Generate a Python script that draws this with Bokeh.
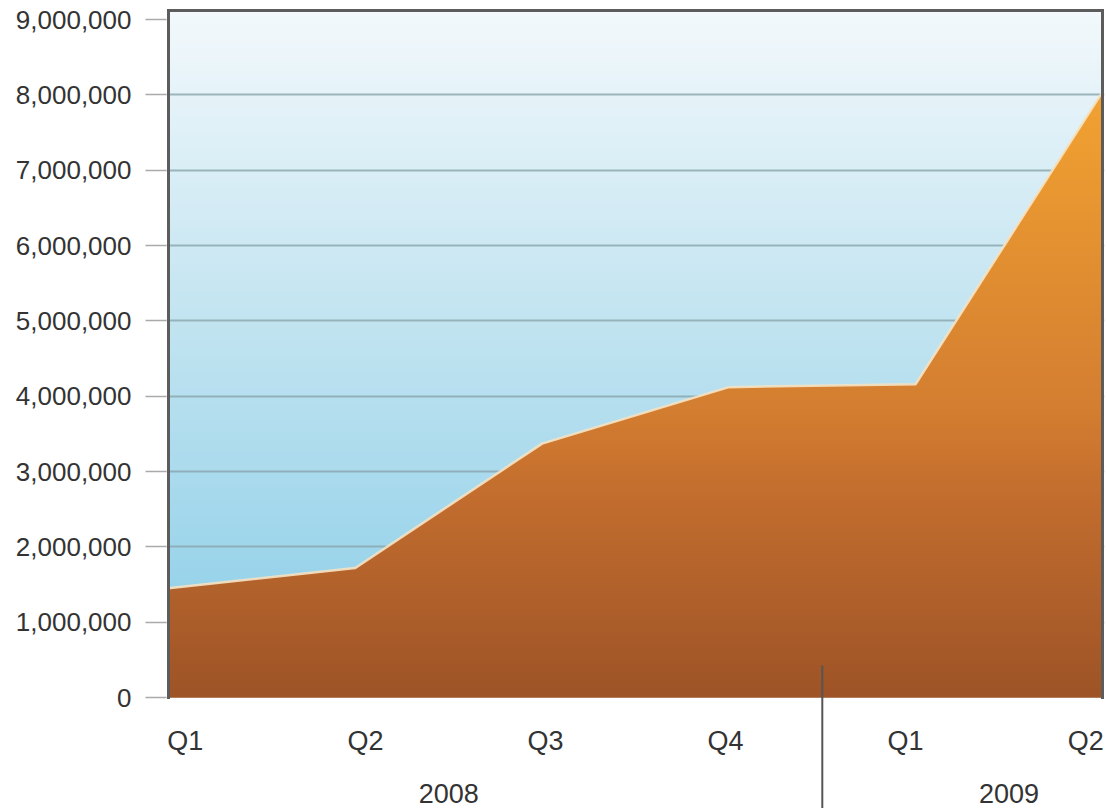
import numpy as np
from bokeh.plotting import figure
from bokeh.models import Range1d, FixedTicker, NumeralTickFormatter
from bokeh.core.properties import value
from bokeh.embed import file_html
from bokeh.resources import INLINE

# ---- data ----
quarters = ["Q1", "Q2", "Q3", "Q4", "Q1", "Q2"]
years = ["2008", "2008", "2008", "2008", "2009", "2009"]
values = [1450000, 1720000, 3370000, 4120000, 4160000, 8040000]
y_ticks = [0, 1000000, 2000000, 3000000, 4000000, 5000000,
           6000000, 7000000, 8000000, 9000000]

# ---- layout constants ----
AREA_W, AREA_H = 934, 687        # plotting area (pixels)
PAD = 2                          # pixels of frame beyond the plotting area
BELOW = 111                      # pixels below zero used for the labels
Y_MAX = 9120000
X_MAX = len(values) - 1
PX = Y_MAX / AREA_H              # data units per pixel (vertical)
PXX = X_MAX / AREA_W             # data units per pixel (horizontal)
FONT = "Liberation Sans"
TEXT_COLOR = "#333333"
FRAME_COLOR = "#5c5c5c"

xs = list(range(len(values)))

p = figure(frame_width=AREA_W + 2 * PAD, frame_height=AREA_H + PAD + BELOW,
           min_border_left=166, min_border_right=1,
           min_border_top=8, min_border_bottom=0,
           x_range=Range1d(-PAD * PXX, X_MAX + PAD * PXX),
           y_range=Range1d(-BELOW * PX, Y_MAX + PAD * PX),
           x_axis_type=None, output_backend="svg", toolbar_location=None)
p.outline_line_color = None
p.background_fill_color = "white"
p.border_fill_color = "white"


def ramp(t, stops_t, stops_c):
    cs = np.array([[int(c[1:3], 16), int(c[3:5], 16), int(c[5:7], 16)] for c in stops_c], float)
    return np.stack([np.interp(t, stops_t, cs[:, k]) for k in range(3)], axis=-1)


# ---- sky gradient background ----
SH = 400
ts = (np.arange(SH) + 0.5) / SH
sky_rgb = ramp(ts, [0.0, 0.5, 1.0], ["#88cde8", "#bde2f0", "#f3f9fc"])
sky = np.empty((SH, 1), dtype=np.uint32)
sv = sky.view(dtype=np.uint8).reshape((SH, 1, 4))
sv[:, 0, 0:3] = sky_rgb.astype(np.uint8)
sv[:, 0, 3] = 255
p.image_rgba(image=[sky], x=0, y=0, dw=X_MAX, dh=Y_MAX, level="image")

# ---- grid ----
p.ygrid.ticker = FixedTicker(ticks=y_ticks[1:-1])
p.ygrid.grid_line_color = "#8aa4ad"
p.ygrid.grid_line_width = 2
p.ygrid.grid_line_alpha = 0.8

# ---- area (solid base + vertical gradient shading) ----
p.varea(x=xs, y1=0, y2=values, fill_color="#c8712e")

W, H = AREA_W, AREA_H
xc = (np.arange(W) + 0.5) / W * X_MAX
yc = (np.arange(H) + 0.5) / H * Y_MAX
top = np.interp(xc, xs, values)
alpha = np.clip((top[None, :] - yc[:, None]) / PX + 0.5, 0, 1)
orange_rgb = ramp(yc / Y_MAX, [0.0, 0.3, 0.42, 0.83, 1.0],
                  ["#9e5427", "#c46e2f", "#d47e31", "#ef9f32", "#f6ab36"])
img = np.empty((H, W), dtype=np.uint32)
iv = img.view(dtype=np.uint8).reshape((H, W, 4))
iv[:, :, 0:3] = orange_rgb[:, None, :].astype(np.uint8)
iv[:, :, 3] = (alpha * 255).astype(np.uint8)
p.image_rgba(image=[img], x=0, y=0, dw=X_MAX, dh=Y_MAX)

p.line(x=xs, y=values, line_color="#f5e4c6", line_width=2.5, line_alpha=0.9)

# ---- frame (left, top, right) ----
p.segment(x0=[0, 0, X_MAX], y0=[0, Y_MAX, Y_MAX],
          x1=[0, X_MAX, X_MAX], y1=[Y_MAX, Y_MAX, 0],
          line_color=FRAME_COLOR, line_width=3, line_cap="square")

# ---- y axis ----
ax = p.yaxis[0]
ax.ticker = FixedTicker(ticks=y_ticks)
ax.formatter = NumeralTickFormatter(format="0,0")
ax.major_label_text_font = FONT
ax.major_label_text_font_size = "26px"
ax.major_label_text_color = TEXT_COLOR
ax.major_tick_out = 21
ax.major_tick_in = 0
ax.major_tick_line_color = "#aaaaaa"
ax.major_tick_line_width = 1.5
ax.minor_tick_line_color = None
ax.axis_line_color = None
ax.major_label_standoff = 14

# ---- quarter labels ----
INSET = 0.09
step = (X_MAX - 2 * INSET) / X_MAX
p.text(x=[INSET + i * step for i in range(len(quarters))],
       y=[-43 * PX] * len(quarters), text=quarters,
       text_font=value(FONT), text_font_size="27px", text_color=TEXT_COLOR,
       text_align="center", text_baseline="middle")

# ---- year labels and separator ----
uniq = []
for y in years:
    if y not in uniq:
        uniq.append(y)
year_x = []
for y in uniq:
    idx = [i for i, yy in enumerate(years) if yy == y]
    year_x.append((idx[0] + idx[-1]) / 2)
p.text(x=year_x, y=[-96 * PX] * len(uniq), text=uniq,
       text_font=value(FONT), text_font_size="27px", text_color=TEXT_COLOR,
       text_align="center", text_baseline="middle")

seps = [(k - 0.5) for k in range(1, len(years)) if years[k] != years[k - 1]]
p.segment(x0=seps, y0=[32 * PX] * len(seps), x1=seps, y1=[-BELOW * PX] * len(seps),
          line_color="#555555", line_width=2)

open("out.html", "w").write(file_html(p, INLINE))
